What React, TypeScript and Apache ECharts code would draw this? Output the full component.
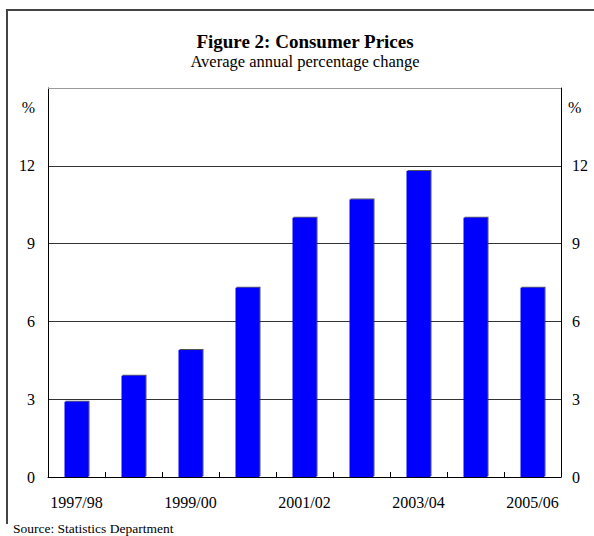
import React, { useEffect, useRef } from "react";
import * as echarts from "echarts";

const categories = ["1997/98", "1998/99", "1999/00", "2000/01", "2001/02", "2002/03", "2003/04", "2004/05", "2005/06"];
const cpiValues = [2.9, 3.9, 4.9, 7.3, 10.0, 10.7, 11.8, 10.0, 7.3];
const titleText = "Figure 2: Consumer Prices";
const subtitleText = "Average annual percentage change";
const sourceText = "Source: Statistics Department";
const unitText = "%";

const FONT = "'Liberation Serif', 'Times New Roman', serif";

export default function App() {
  const ref = useRef<HTMLDivElement>(null);
  useEffect(() => {
    if (!ref.current) return;
    const chart = echarts.init(ref.current, null, { renderer: "svg" });
    const yLabel = {
      fontFamily: FONT,
      fontSize: 16,
      color: "#000",
      formatter: (v: number) => (v === 15 ? "" : String(v)),
    };
    chart.setOption({
      animation: false,
      backgroundColor: "#fff",
      textStyle: { fontFamily: FONT },
      grid: { left: 48, right: 33, top: 88, bottom: 59, containLabel: false },
      xAxis: {
        type: "category",
        data: categories,
        boundaryGap: true,
        axisLine: { show: true, lineStyle: { color: "#000", width: 1 } },
        axisTick: { show: true, inside: true, length: 5, interval: 0, lineStyle: { color: "#000" } },
        axisLabel: { interval: 1, margin: 17, fontFamily: FONT, fontSize: 16, color: "#000" },
        splitLine: { show: false },
      },
      yAxis: [
        {
          type: "value",
          position: "left",
          min: 0,
          max: 15,
          interval: 3,
          axisLine: { show: true, lineStyle: { color: "#000", width: 1 } },
          axisTick: { show: false },
          axisLabel: { ...yLabel, margin: 13 },
          splitLine: { show: true, lineStyle: { color: "#333", width: 1 } },
        },
        {
          type: "value",
          position: "right",
          min: 0,
          max: 15,
          interval: 3,
          axisLine: { show: true, lineStyle: { color: "#000", width: 1 } },
          axisTick: { show: false },
          axisLabel: { ...yLabel, margin: 11 },
          splitLine: { show: false },
        },
      ],
      graphic: [
        {
          type: "polyline",
          shape: { points: [[7, 524], [7, 10], [600, 10]] },
          style: { fill: "none", stroke: "#444", lineWidth: 2 },
          silent: true,
          z: 100,
        },
        {
          type: "line",
          shape: { x1: 48, y1: 88.5, x2: 561, y2: 88.5 },
          style: { stroke: "#999", lineWidth: 1 },
          z: 100,
        },
        {
          type: "text",
          x: 305,
          y: 41.3,
          style: {
            text: titleText,
            fontFamily: FONT,
            fontSize: 19,
            fontWeight: "bold",
            fill: "#000",
            align: "center",
            verticalAlign: "middle",
          },
        },
        {
          type: "text",
          x: 305,
          y: 61,
          style: {
            text: subtitleText,
            fontFamily: FONT,
            fontSize: 16.5,
            fill: "#000",
            align: "center",
            verticalAlign: "middle",
          },
        },
        {
          type: "text",
          x: 35,
          y: 107.6,
          style: { text: unitText, fontFamily: FONT, fontSize: 16, fill: "#000", align: "right", verticalAlign: "middle" },
        },
        {
          type: "text",
          x: 568,
          y: 107.6,
          style: { text: unitText, fontFamily: FONT, fontSize: 16, fill: "#000", align: "left", verticalAlign: "middle" },
        },
        {
          type: "text",
          x: 13,
          y: 528,
          style: { text: sourceText, fontFamily: FONT, fontSize: 13.5, fill: "#000", align: "left", verticalAlign: "middle" },
        },
      ],
      series: [
        {
          type: "bar",
          data: cpiValues,
          yAxisIndex: 0,
          barWidth: 24,
          itemStyle: {
            color: "#0000FF",
            shadowColor: "rgba(40,40,40,0.8)",
            shadowOffsetX: 1,
            shadowOffsetY: -1,
            shadowBlur: 0,
          },
        },
      ],
    });
    return () => chart.dispose();
  }, []);
  return (
    <div
      ref={ref}
      style={{ position: "fixed", left: 0, top: 0, width: 594, height: 536 }}
    />
  );
}
